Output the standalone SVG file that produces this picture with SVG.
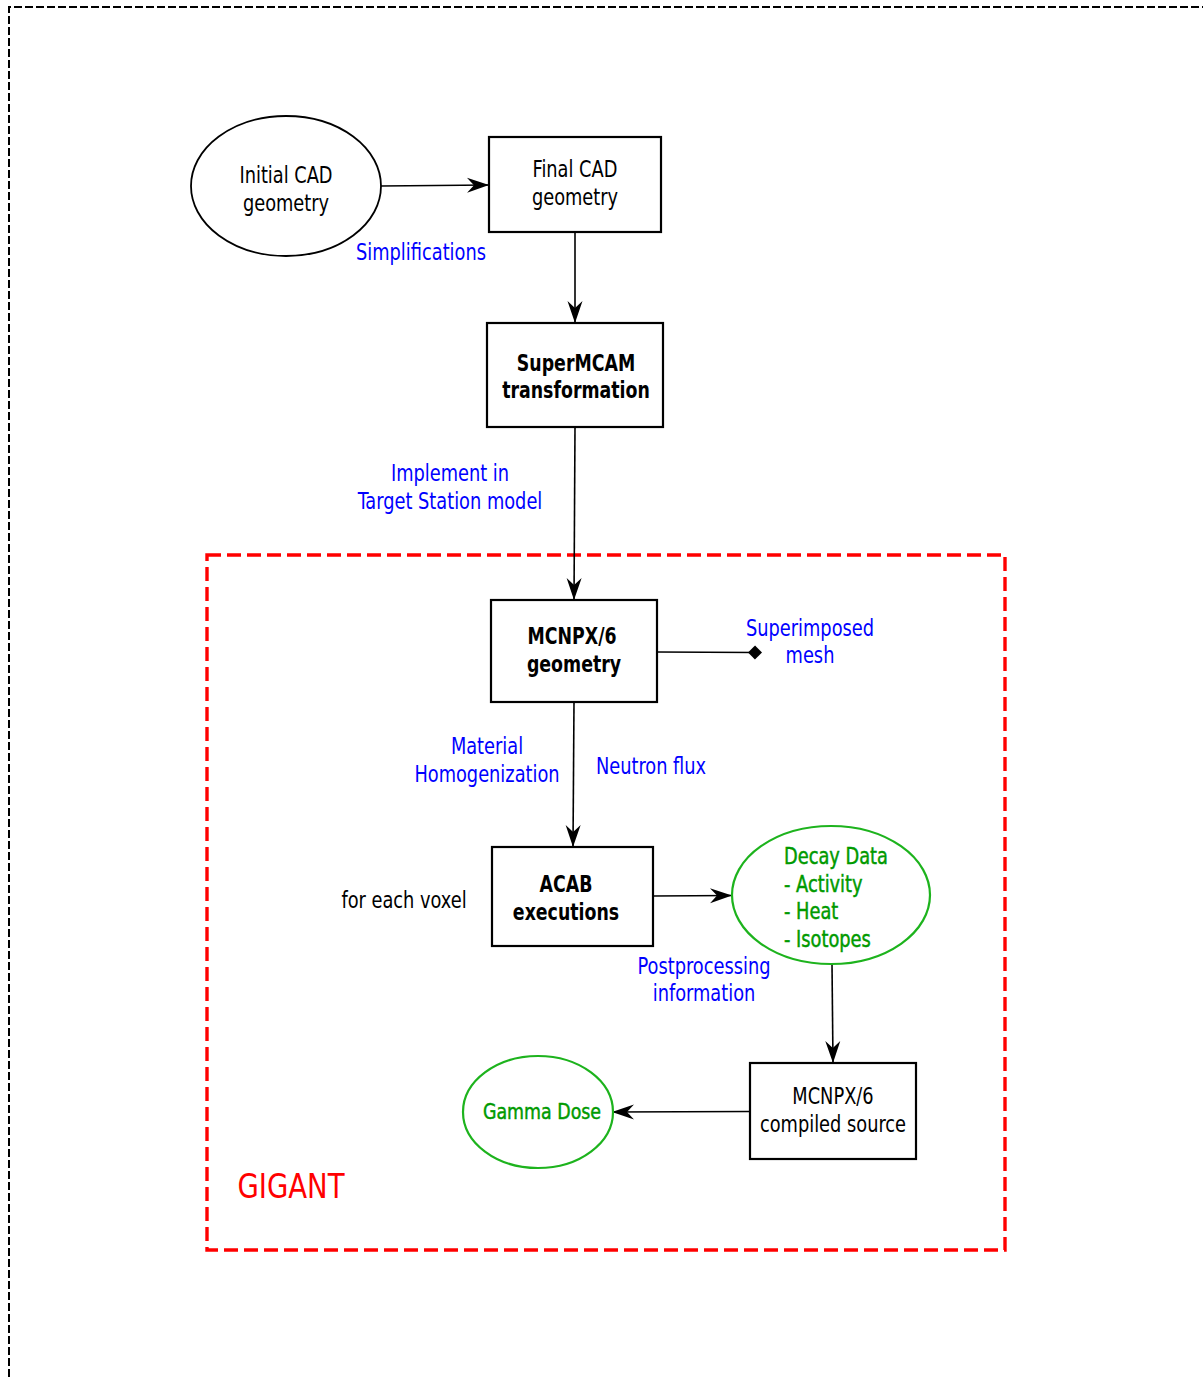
<svg xmlns="http://www.w3.org/2000/svg" width="1203" height="1377" viewBox="0 0 1203 1377">
<style>
text{font-family:"DejaVu Sans Condensed","DejaVu Sans",sans-serif;font-size:23px;text-anchor:middle}
.blk{fill:#000}
.blue{fill:#0000ff}
.grn{fill:#009a00;stroke:#009a00;stroke-width:0.45}
.b{font-weight:bold}
.box{fill:#fff;stroke:#000;stroke-width:2.2}
.ell{fill:#fff;stroke:#000;stroke-width:1.8}
.gell{fill:#fff;stroke:#1db31d;stroke-width:2.2}
.con{fill:none;stroke:#000;stroke-width:1.6}
</style>
<defs>
<marker id="arr" markerUnits="userSpaceOnUse" markerWidth="26" markerHeight="20" viewBox="-24 -10 26 20" refX="0" refY="0" orient="auto" overflow="visible">
<path d="M0,0 L-22,-7.5 L-15,0 L-22,7.5 Z" fill="#000"/>
</marker>
<marker id="dia" markerUnits="userSpaceOnUse" markerWidth="20" markerHeight="20" viewBox="-10 -10 20 20" refX="0" refY="0" orient="auto" overflow="visible">
<path d="M-7,0 L0,-7 L7,0 L0,7 Z" fill="#000"/>
</marker>
</defs>
<rect width="1203" height="1377" fill="#fff"/>
<path d="M9,1377 L9,7 L1203,7" fill="none" stroke="#000" stroke-width="2" stroke-dasharray="8,3"/>
<rect id="gigant" x="207" y="555" width="798" height="695" fill="none" stroke="#ff0000" stroke-width="3.4" stroke-dasharray="14,6"/>
<text transform="translate(291,1198) scale(0.9,1)" style="font-size:34px" fill="#ff0000">GIGANT</text>
<g id="connectors">
<line class="con" x1="381" y1="186" x2="489" y2="185" marker-end="url(#arr)"/>
<line class="con" x1="575" y1="232" x2="575" y2="323" marker-end="url(#arr)"/>
<line class="con" x1="575" y1="427" x2="574" y2="600" marker-end="url(#arr)"/>
<line class="con" x1="657" y1="652" x2="755" y2="652.5" marker-end="url(#dia)"/>
<line class="con" x1="574" y1="702" x2="573" y2="847" marker-end="url(#arr)"/>
<line class="con" x1="653" y1="896" x2="732" y2="895.5" marker-end="url(#arr)"/>
<line class="con" x1="832" y1="964" x2="833" y2="1063" marker-end="url(#arr)"/>
<line class="con" x1="750" y1="1111.5" x2="612" y2="1112" marker-end="url(#arr)"/>
</g>
<g id="initial-cad">
<ellipse class="ell" cx="286" cy="186" rx="95" ry="70"/>
<text transform="translate(286,183) scale(0.86,1)" class="blk">Initial CAD</text>
<text transform="translate(286,211) scale(0.86,1)" class="blk">geometry</text>
</g>
<text transform="translate(421,260) scale(0.86,1)" class="blue">Simplifications</text>
<g id="final-cad">
<rect class="box" x="489" y="137" width="172" height="95"/>
<text transform="translate(575,177) scale(0.86,1)" class="blk">Final CAD</text>
<text transform="translate(575,205) scale(0.86,1)" class="blk">geometry</text>
</g>
<g id="supermcam">
<rect class="box" x="487" y="323" width="176" height="104"/>
<text transform="translate(576,371) scale(0.84,1)" class="blk b">SuperMCAM</text>
<text transform="translate(576,398) scale(0.84,1)" class="blk b">transformation</text>
</g>
<text transform="translate(450,481) scale(0.86,1)" class="blue">Implement in</text>
<text transform="translate(450,509) scale(0.86,1)" class="blue">Target Station model</text>
<g id="mcnpx-geometry">
<rect class="box" x="491" y="600" width="166" height="102"/>
<text transform="translate(572,644) scale(0.84,1)" class="blk b">MCNPX/6</text>
<text transform="translate(574,672) scale(0.84,1)" class="blk b">geometry</text>
</g>
<text transform="translate(810,636) scale(0.86,1)" class="blue">Superimposed</text>
<text transform="translate(810,663) scale(0.86,1)" class="blue">mesh</text>
<text transform="translate(487,754) scale(0.86,1)" class="blue">Material</text>
<text transform="translate(487,782) scale(0.86,1)" class="blue">Homogenization</text>
<text transform="translate(651,774) scale(0.86,1)" class="blue">Neutron flux</text>
<g id="acab">
<rect class="box" x="492" y="847" width="161" height="99"/>
<text transform="translate(566,892) scale(0.84,1)" class="blk b">ACAB</text>
<text transform="translate(566,920) scale(0.84,1)" class="blk b">executions</text>
</g>
<text transform="translate(404,908) scale(0.86,1)" class="blk">for each voxel</text>
<g id="decay-data">
<ellipse class="gell" cx="831" cy="895" rx="99" ry="69"/>
<text transform="translate(784,864) scale(0.86,1)" class="grn" style="text-anchor:start">Decay Data</text>
<text transform="translate(784,892) scale(0.86,1)" class="grn" style="text-anchor:start">- Activity</text>
<text transform="translate(784,919) scale(0.86,1)" class="grn" style="text-anchor:start">- Heat</text>
<text transform="translate(784,947) scale(0.86,1)" class="grn" style="text-anchor:start">- Isotopes</text>
</g>
<text transform="translate(704,974) scale(0.86,1)" class="blue">Postprocessing</text>
<text transform="translate(704,1001) scale(0.86,1)" class="blue">information</text>
<g id="compiled-source">
<rect class="box" x="750" y="1063" width="166" height="96"/>
<text transform="translate(833,1104) scale(0.86,1)" class="blk">MCNPX/6</text>
<text transform="translate(833,1132) scale(0.86,1)" class="blk">compiled source</text>
</g>
<g id="gamma-dose">
<ellipse class="gell" cx="538" cy="1112" rx="75" ry="56"/>
<text transform="translate(542,1119) scale(0.88,1)" class="grn" style="font-size:22px">Gamma Dose</text>
</g>
</svg>
